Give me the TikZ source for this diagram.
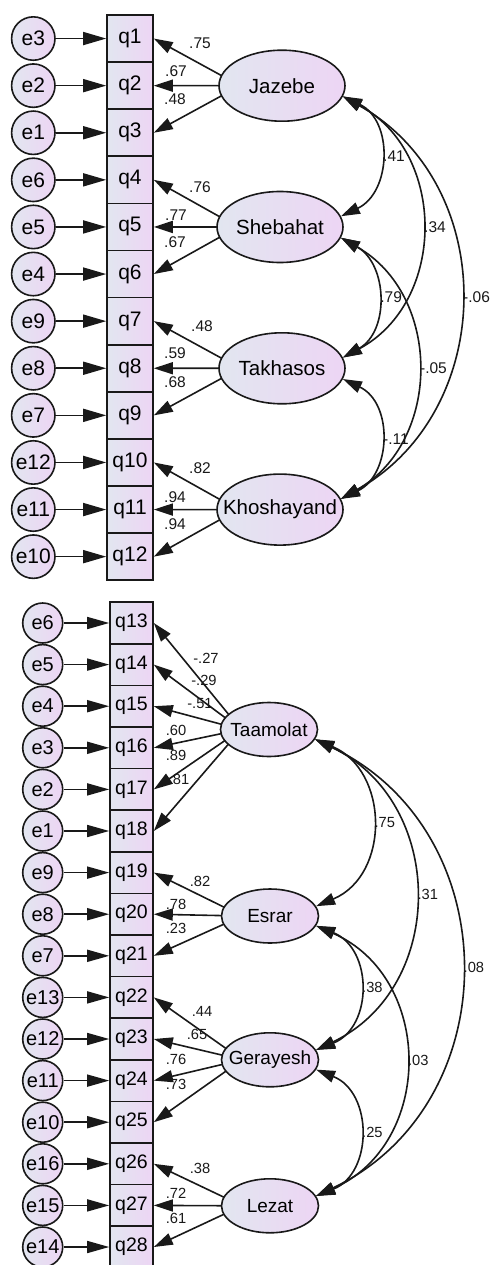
\documentclass[tikz,border=0pt]{standalone}
\usepackage{fontspec}
\setmainfont{Liberation Sans}
\usetikzlibrary{arrows.meta,shapes.geometric,backgrounds}
\definecolor{gA}{RGB}{226,230,240}
\definecolor{gB}{RGB}{237,213,244}
\definecolor{ink}{RGB}{25,25,25}
\newcommand{\zb}[1]{\makebox[0pt]{#1}}
\begin{document}
\begin{tikzpicture}[x=1pt,y=-1pt,
  lw/.style={line width=1.6pt, draw=ink},
  fillg/.style={left color=gA, right color=gB},
  obsA/.style={lw, fillg, rectangle, minimum width=46pt, minimum height=47.1pt, inner sep=0pt, font=\fontsize{21}{24}\selectfont},
  obsB/.style={lw, fillg, rectangle, minimum width=43pt, minimum height=41.6pt, inner sep=0pt, font=\fontsize{19.5}{22}\selectfont},
  errA/.style={lw, fillg, circle, minimum size=43.4pt, inner sep=0pt, font=\fontsize{21}{24}\selectfont},
  errB/.style={lw, fillg, circle, minimum size=40pt, inner sep=0pt, font=\fontsize{20}{23}\selectfont},
  latA/.style={lw, fillg, ellipse, minimum width=126pt, minimum height=71pt, inner sep=0pt, font=\fontsize{20.5}{24}\selectfont},
  latB/.style={lw, fillg, ellipse, minimum width=97pt, minimum height=54pt, inner sep=0pt, font=\fontsize{19}{22}\selectfont},
  earrA/.style={line width=1.6pt, draw=ink, -{Triangle[length=23pt,width=13pt]}},
  earrB/.style={line width=1.6pt, draw=ink, -{Triangle[length=22pt,width=12pt]}},
  larr/.style={line width=1.6pt, draw=ink, -{Triangle[length=19pt,width=12pt]}},
  carr/.style={line width=1.6pt, draw=ink, {Triangle[length=19pt,width=12pt]}-{Triangle[length=19pt,width=12pt]}},
  lblA/.style={inner sep=0pt, text=ink, font=\fontsize{15.5}{18}\selectfont},
  lblB/.style={inner sep=0pt, text=ink, font=\fontsize{14.7}{17}\selectfont},
  clblA/.style={inner sep=2.5pt, text=ink, font=\fontsize{15.5}{18}\selectfont, anchor=west, pos=0.5},
  clblB/.style={inner sep=2.5pt, text=ink, font=\fontsize{14.7}{17}\selectfont, anchor=west, pos=0.5}
]
\useasboundingbox (0,0) rectangle (496,1265);

% ---------------- top model ----------------
\foreach \i/\e in {1/e3,2/e2,3/e1,4/e6,5/e5,6/e4,7/e9,8/e8,9/e7,10/e12,11/e11,12/e10}{
  \node[obsA] (q\i) at (130,{15+47.1*(\i-0.5)}) {q\i};
  \node[errA] (er\i) at (33.3,{15+47.1*(\i-0.5)}) {\zb{\e}};
  \draw[earrA] (er\i) -- (q\i);
}
\node[latA] (Jaz) at (282,85.7) {\zb{Jazebe}};
\node[latA] (She) at (280,227) {\zb{Shebahat}};
\node[latA] (Tak) at (282,368.3) {\zb{Takhasos}};
\node[latA] (Kho) at (280,509.6) {\zb{Khoshayand}};
\coordinate (Jc) at (240,85.7);
\coordinate (Sc) at (238,227);
\coordinate (Tc) at (240,368.3);
\coordinate (Kc) at (238,509.6);

\begin{pgfonlayer}{background}
\foreach \i in {1,2,3}{\draw[larr] (Jc) -- (q\i.east);}
\foreach \i in {4,5,6}{\draw[larr] (Sc) -- (q\i.east);}
\foreach \i in {7,8,9}{\draw[larr] (Tc) -- (q\i.east);}
\foreach \i in {10,11,12}{\draw[larr] (Kc) -- (q\i.east);}
\end{pgfonlayer}

\foreach \x/\y/\txt [count=\n] in {200/43/.75,176/71/.67,175/99/.48,
  200/187/.76,176/215/.77,175/242/.67,
  202/326/.48,175/353/.59,175/382/.68,
  200/468/.82,175/497/.94,175/524/.94}{
  \node[lblA] (la\n) at (\x,\y) {\txt};
}

\draw[carr] (Jaz.-10) .. controls +(50.6,24) and +(50.6,-24) .. (She.10) node[clblA] (c1) {.41};
\draw[carr] (Jaz.-10) .. controls +(104,56.1) and +(104,-56.1) .. (Tak.10) node[clblA] (c2) {.34};
\draw[carr] (Jaz.-10) .. controls +(157.3,88.2) and +(157.3,-88.2) .. (Kho.10) node[clblA] (c3) {-.06};
\draw[carr] (She.-10) .. controls +(46.8,26.4) and +(46.8,-26.4) .. (Tak.10) node[clblA] (c4) {.79};
\draw[carr] (She.-10) .. controls +(101.2,57.6) and +(101.2,-57.6) .. (Kho.10) node[clblA] (c5) {-.05};
\draw[carr] (Tak.-10) .. controls +(50.6,24) and +(50.6,-24) .. (Kho.10) node[clblA] (c6) {-.11};

% ---------------- bottom model ----------------
\foreach \i/\e in {13/e6,14/e5,15/e4,16/e3,17/e2,18/e1,19/e9,20/e8,21/e7,22/e13,23/e12,24/e11,25/e10,26/e16,27/e15,28/e14}{
  \node[obsB] (q\i) at (131.5,{623+41.6*(\i-13)}) {q\i};
  \node[errB] (er\i) at (42.7,{623+41.6*(\i-13)}) {\zb{\e}};
  \draw[earrB] (er\i) -- (q\i);
}
\node[latB] (Taa) at (269,729.5) {\zb{Taamolat}};
\node[latB] (Esr) at (270,916) {\zb{Esrar}};
\node[latB] (Ger) at (270,1059.8) {\zb{Gerayesh}};
\node[latB] (Lez) at (270,1205.8) {\zb{Lezat}};
\coordinate (Tac) at (241,729.5);
\coordinate (Esc) at (242,916);
\coordinate (Gec) at (242,1059.8);
\coordinate (Lec) at (242,1205.8);

\begin{pgfonlayer}{background}
\foreach \i in {13,...,18}{\draw[larr] (Tac) -- (q\i.east);}
\foreach \i in {19,20,21}{\draw[larr] (Esc) -- (q\i.east);}
\foreach \i in {22,...,25}{\draw[larr] (Gec) -- (q\i.east);}
\foreach \i in {26,27,28}{\draw[larr] (Lec) -- (q\i.east);}
\end{pgfonlayer}

\foreach \x/\y/\txt [count=\n] in {206/658/-.27,204/680/-.29,200/704/-.51,176/730/.60,176/755/.89,179/779/.81,
  200/881/.82,176/904/.78,176/928/.23,
  202/1011/.44,197/1034/.65,176/1059/.76,176/1084/.73,
  200/1168/.38,176/1193/.72,176/1218/.61}{
  \node[lblB] (lb\n) at (\x,\y) {\txt};
}

\draw[carr] (Taa.-12) .. controls +(74.2,31.2) and +(74.2,-31.2) .. (Esr.12) node[clblB] (d1) {.75};
\draw[carr] (Taa.-12) .. controls +(131.5,62.9) and +(131.5,-62.9) .. (Ger.12) node[clblB] (d2) {.31};
\draw[carr] (Taa.-12) .. controls +(193,92.1) and +(193,-92.1) .. (Lez.12) node[clblB] (d3) {.08};
\draw[carr] (Esr.-12) .. controls +(57,22.9) and +(57,-22.9) .. (Ger.12) node[clblB] (d4) {.38};
\draw[carr] (Esr.-12) .. controls +(118.2,52.1) and +(118.2,-52.1) .. (Lez.12) node[clblB] (d5) {.03};
\draw[carr] (Ger.-12) .. controls +(57,22.9) and +(57,-22.9) .. (Lez.12) node[clblB] (d6) {.25};
\end{tikzpicture}
\end{document}
